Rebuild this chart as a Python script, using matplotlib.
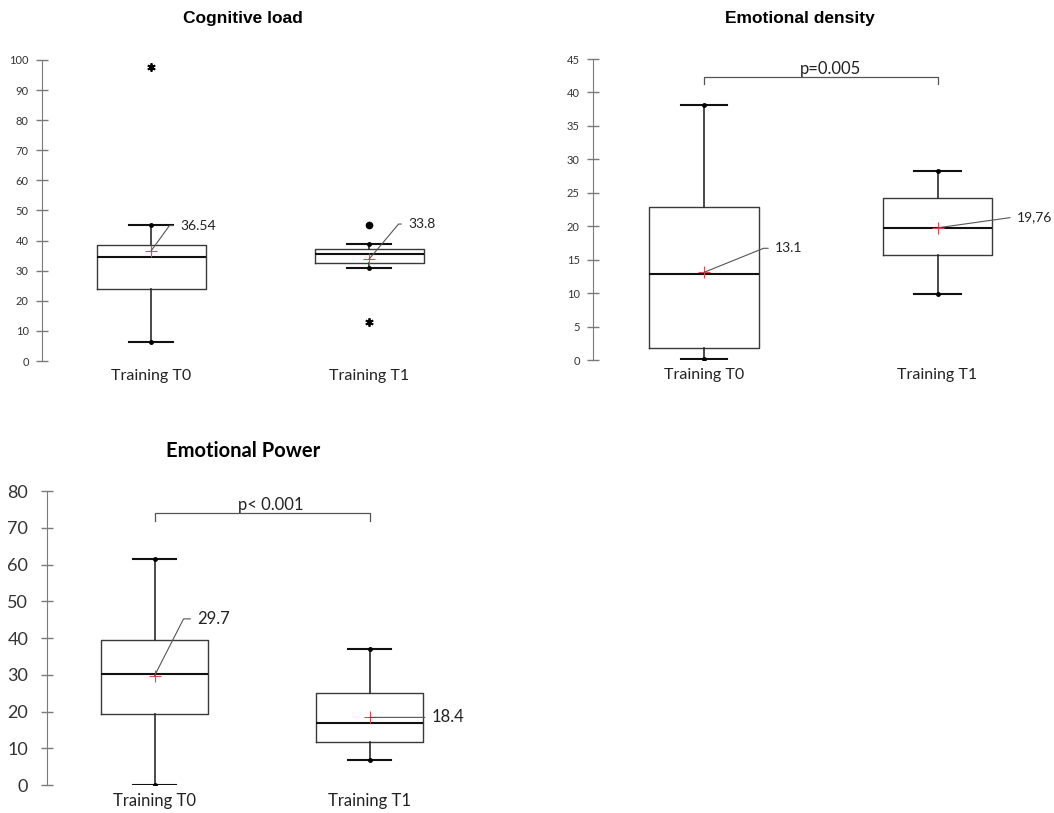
import numpy as np
import matplotlib
matplotlib.use('Agg')
import matplotlib.pyplot as plt

plt.rcParams['font.family'] = ['Lato', 'DejaVu Sans']

W, H = 1054, 813
groups = ['Training T0', 'Training T1']
pos = [1, 2]

# Cognitive load
cog_whislo = [6.3, 30.9]
cog_q1 = [23.9, 32.6]
cog_med = [34.5, 35.5]
cog_q3 = [38.5, 37.2]
cog_whishi = [45.2, 38.9]
cog_mean = [36.54, 33.8]
cog_star = [[97.7], [13.0]]
cog_dot = [[], [45.2]]
cog_lab = ['36.54', '33.8']
cog_lab_x = [1.135, 2.18]
cog_lab_y = [45.0, 45.5]
cog_lab_ang = [54, 50]

# Emotional density
den_whislo = [0.2, 9.9]
den_q1 = [1.8, 15.7]
den_med = [12.9, 19.7]
den_q3 = [22.9, 24.2]
den_whishi = [38.1, 28.3]
den_mean = [13.1, 19.76]
den_star = [[], []]
den_dot = [[], []]
den_lab = ['13.1', '19,76']
den_lab_x = [1.305, 2.34]
den_lab_y = [16.7, 21.4]
den_lab_ang = [22, 8]
den_p = 'p=0.005'
den_p_y = 42.3

# Emotional Power
pow_whislo = [0.0, 6.8]
pow_q1 = [19.3, 11.7]
pow_med = [30.2, 16.9]
pow_q3 = [39.5, 25.0]
pow_whishi = [61.5, 37.0]
pow_mean = [29.7, 18.4]
pow_star = [[], []]
pow_dot = [[], []]
pow_lab = ['29.7', '18.4']
pow_lab_x = [1.2, 2.29]
pow_lab_y = [45.2, 18.4]
pow_lab_ang = [63, 0]
pow_p = 'p< 0.001'
pow_p_y = 74.0


def px_rect(l, r, t, b):
    return [l / W, (H - b) / H, (r - l) / W, (b - t) / H]


def panel(rect, xlim, ylim, yticks, whislo, q1, med, q3, whishi, mean, star, dot,
          lab, lab_x, lab_y, lab_ang, tick_fs, xlab_fs, ann_fs, width, tick_pad):
    ax = fig.add_axes(rect)
    stats = []
    for i in range(2):
        stats.append(dict(med=med[i], q1=q1[i], q3=q3[i], whislo=whislo[i],
                          whishi=whishi[i], mean=mean[i], fliers=star[i],
                          label=groups[i]))
    ax.bxp(stats, positions=pos, widths=width, showmeans=True, patch_artist=False,
           boxprops=dict(color='#3a3a3a', lw=1.0),
           medianprops=dict(color='#111111', lw=1.5),
           whiskerprops=dict(color='#2a2a2a', lw=1.2),
           capprops=dict(color='#111111', lw=1.5),
           capwidths=0.2,
           meanprops=dict(marker='+', markeredgecolor='#e8434f', markersize=9,
                          markeredgewidth=0.8),
           flierprops=dict(marker=(6, 2, 0), markeredgecolor='k', markersize=6,
                           markeredgewidth=1.3))
    for i in range(2):
        ax.plot([pos[i], pos[i]], [whislo[i], whishi[i]], 'o', color='k', ms=2.5)
        if dot[i]:
            ax.plot([pos[i]] * len(dot[i]), dot[i], 'o', color='k', ms=4.5)
        if lab_ang[i] == 0:
            cs = 'arc3,rad=0'
        else:
            cs = 'angle,angleA=0,angleB=%d,rad=0' % lab_ang[i]
        ax.annotate(lab[i], xy=(pos[i], mean[i]), xytext=(lab_x[i], lab_y[i]),
                    ha='left', va='center', fontsize=ann_fs, color='#222222',
                    annotation_clip=False,
                    arrowprops=dict(arrowstyle='-', color='#555555', lw=0.8,
                                    shrinkA=3, shrinkB=0, relpos=(0, 0.5),
                                    connectionstyle=cs))
    ax.set_xlim(*xlim)
    ax.set_ylim(*ylim)
    ax.set_yticks(yticks)
    for s in ['top', 'right', 'bottom']:
        ax.spines[s].set_visible(False)
    ax.spines['left'].set_color('#7a7a7a')
    ax.tick_params(axis='y', direction='inout', length=9, width=1, color='#7a7a7a',
                   labelsize=tick_fs, labelcolor='#333333', pad=tick_pad)
    ax.tick_params(axis='x', length=0, labelsize=xlab_fs, labelcolor='#222222', pad=6)
    return ax


def bracket(ax, y, drop, txt, fs):
    ax.plot([pos[0], pos[0], pos[1], pos[1]], [y - drop, y, y, y - drop],
            color='#555555', lw=0.9, clip_on=False)
    ax.text((pos[0] + pos[1]) / 2 + 0.04, y, txt, ha='center',
            va='bottom', fontsize=fs, color='#222222', clip_on=False)


fig = plt.figure(figsize=(W / 100, H / 100), dpi=100)
fig.patch.set_facecolor('white')

ax1 = panel(px_rect(42, 478, 60, 361), (0.5, 2.5), (0, 100), range(0, 101, 10),
            cog_whislo, cog_q1, cog_med, cog_q3, cog_whishi, cog_mean, cog_star,
            cog_dot, cog_lab, cog_lab_x, cog_lab_y, cog_lab_ang, 8, 11.5, 10, 0.5, 5)

ax2 = panel(px_rect(593, 1031, 59, 360), (0.525, 2.4), (0, 45), range(0, 46, 5),
            den_whislo, den_q1, den_med, den_q3, den_whishi, den_mean, den_star,
            den_dot, den_lab, den_lab_x, den_lab_y, den_lab_ang, 8, 11.5, 10, 0.47, 5)
bracket(ax2, den_p_y, 1.1, den_p, 12)

ax3 = panel(px_rect(47, 477, 491, 785), (0.5, 2.5), (0, 80), range(0, 81, 10),
            pow_whislo, pow_q1, pow_med, pow_q3, pow_whishi, pow_mean, pow_star,
            pow_dot, pow_lab, pow_lab_x, pow_lab_y, pow_lab_ang, 13, 12, 12, 0.5, 9)
bracket(ax3, pow_p_y, 2.2, pow_p, 12)

fig.text(243 / W, 1 - 18 / H, 'Cognitive load', ha='center', va='center',
         fontsize=12.5, fontweight='bold', family=['Liberation Sans', 'DejaVu Sans'])
fig.text(800 / W, 1 - 18 / H, 'Emotional density', ha='center', va='center',
         fontsize=12.5, fontweight='bold', family=['Liberation Sans', 'DejaVu Sans'])
fig.text(243 / W, 1 - 451 / H, 'Emotional Power', ha='center', va='center',
         fontsize=14.5, fontweight='bold')

fig.savefig('out.png', dpi=100, facecolor='white')
